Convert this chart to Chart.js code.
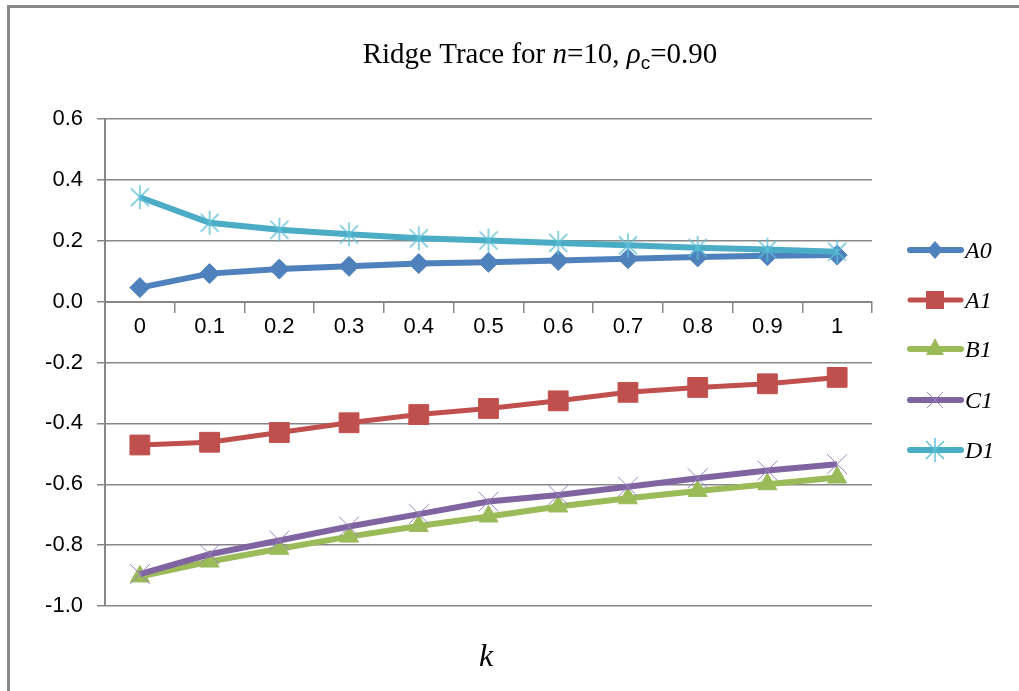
<!DOCTYPE html>
<html>
<head>
<meta charset="utf-8">
<script src="https://cdn.jsdelivr.net/npm/chart.js@4.4.1/dist/chart.umd.min.js"></script>
<style>
html,body{margin:0;padding:0;background:#fff;}
#wrap{position:relative;width:1019px;height:691px;}
</style>
</head>
<body>
<div id="wrap"><canvas id="c" width="1019" height="691"></canvas></div>
<script>
// ---- data ----
const categories = ['0','0.1','0.2','0.3','0.4','0.5','0.6','0.7','0.8','0.9','1'];
const seriesA0 = [0.046, 0.092, 0.107, 0.116, 0.125, 0.129, 0.135, 0.141, 0.147, 0.151, 0.153];
const seriesA1 = [-0.471, -0.462, -0.430, -0.398, -0.371, -0.351, -0.326, -0.298, -0.282, -0.270, -0.249];
const seriesB1 = [-0.903, -0.854, -0.812, -0.772, -0.737, -0.706, -0.673, -0.646, -0.622, -0.600, -0.578];
const seriesC1 = [-0.895, -0.830, -0.785, -0.739, -0.698, -0.657, -0.635, -0.608, -0.580, -0.555, -0.534];
const seriesD1 = [0.343, 0.259, 0.236, 0.221, 0.208, 0.201, 0.193, 0.185, 0.177, 0.171, 0.164];
const seriesNames = ['A0','A1','B1','C1','D1'];
const yTicks = {min: -1.0, max: 0.6, step: 0.2};

// custom asterisk marker (vertical bar + X) for D1
function makeAsterisk(color){
  const cv = document.createElement('canvas');
  cv.width = 24; cv.height = 26;
  const g = cv.getContext('2d');
  g.strokeStyle = color; g.lineWidth = 1.4;
  g.beginPath();
  g.moveTo(12,1); g.lineTo(12,25);
  g.moveTo(3,4); g.lineTo(21,22);
  g.moveTo(21,4); g.lineTo(3,22);
  g.stroke();
  return cv;
}
const asterisk = makeAsterisk('#5bbfd6');

const colors = ['#4F81BD','#C0504D','#9BBB59','#8064A2','#4BACC6'];

const datasets = [
  {label:seriesNames[0], data:seriesA0, borderColor:colors[0], backgroundColor:colors[0], borderWidth:6,
   pointStyle:'rectRot', pointRadius:10, pointBorderWidth:1, pointBackgroundColor:colors[0], pointBorderColor:colors[0], order:5},
  {label:seriesNames[1], data:seriesA1, borderColor:colors[1], backgroundColor:colors[1], borderWidth:5,
   pointStyle:'rect', pointRadius:14, pointBorderWidth:1, pointBackgroundColor:colors[1], pointBorderColor:colors[1], order:4},
  {label:seriesNames[2], data:seriesB1, borderColor:colors[2], backgroundColor:colors[2], borderWidth:6,
   pointStyle:'triangle', pointRadius:11, pointBorderWidth:1, pointBackgroundColor:colors[2], pointBorderColor:colors[2], order:3},
  {label:seriesNames[3], data:seriesC1, borderColor:colors[3], backgroundColor:colors[3], borderWidth:6,
   pointStyle:'crossRot', pointRadius:14, pointBorderWidth:1, pointBackgroundColor:'#9a84c0', pointBorderColor:'#9a84c0', order:2},
  {label:seriesNames[4], data:seriesD1, borderColor:colors[4], backgroundColor:colors[4], borderWidth:6,
   pointStyle:asterisk, pointRadius:12, pointBorderWidth:1, order:1}
];

const decor = {
  id:'decor',
  beforeDraw(chart){
    const ctx = chart.ctx;
    ctx.save();
    ctx.fillStyle = '#fff';
    ctx.fillRect(0,0,chart.width,chart.height);
    ctx.strokeStyle = '#888';
    ctx.lineWidth = 3;
    ctx.beginPath();
    ctx.moveTo(8.5, 1019); ctx.lineTo(8.5, 6.5); ctx.lineTo(1019, 6.5);
    ctx.stroke();
    ctx.restore();
  },
  afterDraw(chart){
    const ctx = chart.ctx;
    ctx.save();
    ctx.fillStyle = '#000';
    ctx.textBaseline = 'alphabetic';
    // title with mixed styles
    const parts = [
      {t:'Ridge Trace for ', f:'29px "Liberation Serif"', dy:0},
      {t:'n', f:'italic 29px "Liberation Serif"', dy:0},
      {t:'=10, ', f:'29px "Liberation Serif"', dy:0},
      {t:'ρ', f:'italic 29px "Liberation Serif"', dy:0},
      {t:'c', f:'19px "Liberation Sans"', dy:6},
      {t:'=0.90', f:'29px "Liberation Serif"', dy:0}
    ];
    let total = 0;
    parts.forEach(p=>{ctx.font=p.f; p.w=ctx.measureText(p.t).width; total+=p.w;});
    let x = 540 - total/2;
    const base = 63;
    parts.forEach(p=>{ctx.font=p.f; ctx.fillText(p.t, x, base+p.dy); x+=p.w;});
    // x-axis title
    ctx.font = 'italic 32px "Liberation Serif"';
    ctx.textAlign = 'center';
    ctx.fillText('k', 486, 666);
    // legend
    const rows = [250, 300, 349, 400, 450];
    ctx.textAlign = 'left';
    chart.data.datasets.forEach((ds,i)=>{
      const y = rows[i];
      ctx.strokeStyle = ds.borderColor;
      ctx.lineWidth = ds.borderWidth;
      ctx.lineCap = 'round';
      ctx.beginPath(); ctx.moveTo(910, y); ctx.lineTo(961, y); ctx.stroke();
      const cx = 935;
      ctx.fillStyle = ds.pointBackgroundColor || ds.borderColor;
      ctx.strokeStyle = ds.pointBorderColor || ds.borderColor;
      ctx.lineWidth = 1;
      ctx.lineCap = 'butt';
      if (ds.pointStyle === 'rectRot') {
        ctx.beginPath(); ctx.moveTo(cx, y-9); ctx.lineTo(cx+8, y); ctx.lineTo(cx, y+9); ctx.lineTo(cx-8, y); ctx.closePath(); ctx.fill();
      } else if (ds.pointStyle === 'rect') {
        ctx.fillRect(cx-9, y-9, 18, 18);
      } else if (ds.pointStyle === 'triangle') {
        ctx.beginPath(); ctx.moveTo(cx, y-11); ctx.lineTo(cx+9, y+6); ctx.lineTo(cx-9, y+6); ctx.closePath(); ctx.fill();
      } else if (ds.pointStyle === 'crossRot') {
        ctx.beginPath(); ctx.moveTo(cx-8,y-8); ctx.lineTo(cx+8,y+8); ctx.moveTo(cx+8,y-8); ctx.lineTo(cx-8,y+8); ctx.stroke();
      } else {
        ctx.drawImage(asterisk, cx-12, y-13);
      }
      ctx.fillStyle = '#000';
      ctx.font = 'italic 24px "Liberation Serif"';
      ctx.fillText(ds.label, 965, y+8);
    });
    ctx.restore();
  }
};

new Chart(document.getElementById('c'), {
  type:'line',
  data:{labels:categories, datasets:datasets},
  plugins:[decor],
  options:{
    responsive:false,
    animation:false,
    devicePixelRatio:1,
    layout:{padding:{left:0, top:119, right:147, bottom:85}},
    plugins:{legend:{display:false}, title:{display:false}, tooltip:{enabled:false}},
    elements:{line:{tension:0}},
    scales:{
      y:{
        min:yTicks.min, max:yTicks.max,
        afterFit(s){ s.width = 105; },
        ticks:{stepSize:yTicks.step, padding:14, color:'#000',
          font:{family:'"Liberation Sans"', size:22},
          callback:(v)=>Number(v).toFixed(1)},
        grid:{color:'#878787', lineWidth:1.5, tickLength:8, drawTicks:true},
        border:{color:'#878787', width:2}
      },
      x:{
        position:{y:0},
        offset:true,
        ticks:{color:'#000', padding:2, font:{family:'"Liberation Sans"', size:22}, maxRotation:0, autoSkip:false},
        grid:{offset:true, drawOnChartArea:false, color:'#878787', lineWidth:1.5, tickLength:10},
        border:{color:'#878787', width:2}
      }
    }
  }
});
</script>
</body>
</html>
